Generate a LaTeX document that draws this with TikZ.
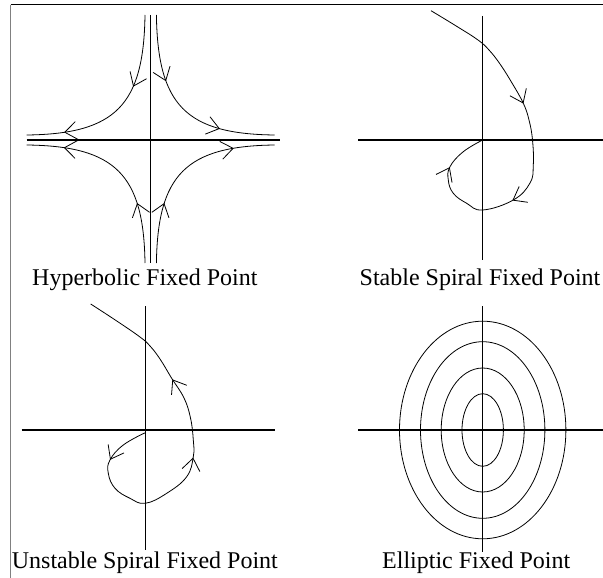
\documentclass[tikz,border=0pt]{standalone}
\usepackage{fontspec}
\setmainfont{Liberation Serif}
\usetikzlibrary{arrows.meta,decorations.markings}
\tikzset{
  axis/.style={line width=1.1pt},
  traj/.style={line width=0.8pt},
  lbl/.style={anchor=base west, inner sep=0pt, font=\fontsize{24}{28}\selectfont},
  flowtip/.tip={Straight Barb[length=12pt,width=18pt,line width=0.8pt]},
  twomarks/.style 2 args={postaction={decorate},decoration={markings,
      mark=at position #1 with {\arrow{flowtip}},
      mark=at position #2 with {\arrow{flowtip}}}},
  threemarks/.style n args={3}{postaction={decorate},decoration={markings,
      mark=at position #1 with {\arrow{flowtip}},
      mark=at position #2 with {\arrow{flowtip}},
      mark=at position #3 with {\arrow{flowtip}}}},
}
\begin{document}
\begin{tikzpicture}[x=1pt,y=-1pt]
\useasboundingbox (0,0) rectangle (603,578);
% frame
\draw[line width=1pt] (10.5,5) -- (603,5);
\draw[gray, line width=1.5pt] (10.5,5) -- (10.5,578);

% ---------- Hyperbolic ----------
\coordinate (O1) at (150.7,140);
\begin{scope}[shift={(O1)}]
  \draw[axis] (-124,0) -- (129,0);
  \draw[axis] (0,-125) -- (0,123);
  \draw[traj, twomarks={0.37}{0.81}] (-5.7,-125) .. controls (-7,-35) and (-35,-6) .. (-124,-5);
  \draw[traj, twomarks={0.34}{0.72}] (5.7,-125) .. controls (7,-35) and (35,-6) .. (124,-5);
  \draw[traj, twomarks={0.31}{0.81}] (-5.7,123) .. controls (-7,35) and (-35,6) .. (-124,5);
  \draw[traj, twomarks={0.31}{0.79}] (5.7,123) .. controls (7,35) and (35,6) .. (124,5);
\end{scope}
\node[lbl] (lblH) at (32,285) {Hyperbolic Fixed Point};

% ---------- Stable spiral ----------
\coordinate (O2) at (482.7,140);
\draw[axis] (358,140) -- (603,140);
\draw[axis] (482.7,16) -- (482.7,260);
\draw[traj, threemarks={0.355}{0.637}{0.885}] plot[smooth, tension=0.7] coordinates {
  (431,10.7) (457,26.5) (478,40) (489,50) (500,64) (512,83) (523.3,103.3) (529,120) (532.5,140)
  (533.3,165) (530,183) (513.3,200) (482.7,210) (466.7,203.3) (453.3,193.3)
  (448.3,180) (450,166.7) (463.3,151.7) (482.7,140)};
\node[lbl] (lblS) at (359.5,285) {Stable Spiral Fixed Point};

% ---------- Unstable spiral ----------
\coordinate (O3) at (145.3,430);
\draw[axis] (21.7,430) -- (275,430);
\draw[axis] (145.3,306) -- (145.3,550);
\draw[traj, threemarks={0.12}{0.48}{0.70}] plot[smooth, tension=0.7] coordinates {
  (145.3,432.7) (123.3,445) (110,460) (108.3,473.3) (115,488.3) (130,498.3)
  (145.3,503.3) (166.7,493.3) (186.7,476.7) (193.3,456.7) (193.3,440)
  (190.5,418) (184,398) (171.7,378.3) (160,359) (150,346) (140,337) (116,320.5) (90.7,304)};
\node[lbl] (lblU) at (11.7,568) {Unstable Spiral Fixed Point};

% ---------- Elliptic ----------
\coordinate (O4) at (482.7,430);
\draw[axis] (358,430) -- (603,430);
\draw[axis] (482.7,306) -- (482.7,551.7);
\foreach \a/\b in {20.7/36.3, 41.5/62, 62.2/88.3, 83.2/108.8}
  \draw[traj] (O4) ellipse [x radius=\a, y radius=\b];
\node[lbl] (lblE) at (382,568) {Elliptic Fixed Point};
\end{tikzpicture}
\end{document}
